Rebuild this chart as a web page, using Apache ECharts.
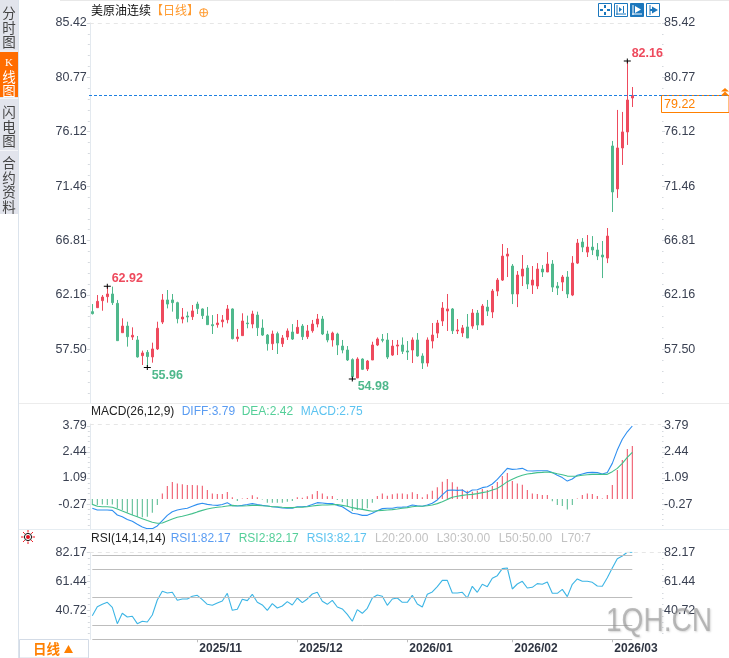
<!DOCTYPE html>
<html><head><meta charset="utf-8">
<style>html,body{margin:0;padding:0;background:#fff}#c{width:729px;height:658px}</style>
<script src="https://cdn.jsdelivr.net/npm/echarts@6/dist/echarts.min.js"></script>
</head><body><div id="c"></div>
<script>
const dates=[
'2025/10/03','2025/10/06','2025/10/07','2025/10/08','2025/10/09','2025/10/10','2025/10/13','2025/10/14','2025/10/15','2025/10/16','2025/10/17','2025/10/20','2025/10/21','2025/10/22','2025/10/23','2025/10/24','2025/10/27','2025/10/28','2025/10/29','2025/10/30','2025/10/31',
'2025/11/03','2025/11/04','2025/11/05','2025/11/06','2025/11/07','2025/11/10','2025/11/11','2025/11/12','2025/11/13','2025/11/14','2025/11/17','2025/11/18','2025/11/19','2025/11/20','2025/11/21','2025/11/24','2025/11/25','2025/11/26','2025/11/27','2025/11/28',
'2025/12/01','2025/12/02','2025/12/03','2025/12/04','2025/12/05','2025/12/08','2025/12/09','2025/12/10','2025/12/11','2025/12/12','2025/12/15','2025/12/16','2025/12/17','2025/12/18','2025/12/19','2025/12/22','2025/12/23','2025/12/24','2025/12/26','2025/12/29','2025/12/30','2025/12/31',
'2026/01/02','2026/01/05','2026/01/06','2026/01/07','2026/01/08','2026/01/09','2026/01/12','2026/01/13','2026/01/14','2026/01/15','2026/01/16','2026/01/19','2026/01/20','2026/01/21','2026/01/22','2026/01/23','2026/01/26','2026/01/27','2026/01/28','2026/01/29','2026/01/30',
'2026/02/02','2026/02/03','2026/02/04','2026/02/05','2026/02/06','2026/02/09','2026/02/10','2026/02/11','2026/02/12','2026/02/13','2026/02/16','2026/02/17','2026/02/18','2026/02/19','2026/02/20','2026/02/23','2026/02/24','2026/02/25','2026/02/26','2026/02/27',
'2026/03/02','2026/03/03','2026/03/04','2026/03/05','2026/03/06'];
const blankTail=['','','','',''];
const tickDates=['2025/11/03','2025/12/01','2026/01/02','2026/02/02','2026/03/02'];
// [open, close, low, high]
const candles=[
[60.74,60.57,60.50,61.39],[61.08,61.62,61.05,62.16],[61.68,61.99,60.82,62.16],[62.02,62.25,61.51,62.92],[62.25,61.51,61.31,62.88],[61.45,58.26,58.26,61.74],[58.94,59.51,58.94,60.17],[59.51,58.60,57.75,59.88],[58.57,58.72,58.32,59.40],[58.32,56.87,56.81,58.66],
[56.98,57.21,56.18,57.41],[57.26,56.90,55.96,57.46],[56.87,57.55,56.38,58.09],[57.55,59.32,57.46,59.88],[59.85,61.74,59.68,62.25],[61.74,61.39,61.02,62.59],[61.74,61.51,60.74,62.25],[61.51,60.14,59.74,61.59],[60.11,60.28,59.74,61.05],[60.37,60.28,59.83,60.74],
[60.31,60.80,60.03,61.31],[61.39,61.00,60.54,61.59],[60.97,60.40,60.11,61.02],[60.37,59.63,59.63,61.14],[59.63,59.54,58.83,60.45],[59.63,59.77,59.37,60.54],[59.88,60.03,59.40,60.45],[60.05,60.97,59.74,61.31],[60.97,58.43,58.37,61.02],[58.43,58.57,58.17,59.26],
[58.69,59.94,58.69,60.60],[59.77,59.71,59.32,60.40],[59.68,60.54,59.32,60.82],[60.45,59.37,58.66,60.74],[59.34,58.74,58.66,60.08],[58.74,58.00,57.41,58.83],[58.00,58.83,57.46,59.12],[58.86,58.06,57.12,59.03],[58.00,58.49,57.72,58.74],[58.57,59.09,58.32,59.31],
[59.00,58.40,58.32,59.68],[58.89,59.40,58.83,60.03],[59.51,58.60,58.32,59.68],[58.60,59.09,58.40,59.60],[59.11,59.68,58.94,60.03],[59.68,60.11,59.40,60.54],[60.11,58.83,58.74,60.37],[58.83,58.32,58.12,59.11],[58.32,58.91,57.75,59.03],[58.83,57.89,57.03,58.94],
[57.80,57.46,57.18,58.32],[57.46,56.61,56.52,57.80],[56.64,55.18,54.98,56.75],[55.07,56.69,55.07,56.84],[56.69,55.81,55.75,56.75],[55.84,56.52,55.67,56.61],[56.61,57.89,56.61,58.17],[57.89,58.40,57.80,58.54],[58.37,58.29,58.12,58.83],[58.32,56.86,56.69,58.91],
[57.03,57.80,56.95,58.32],[57.80,57.89,57.03,58.32],[57.89,57.35,57.12,58.54],[57.38,57.29,56.61,58.23],[57.46,58.32,56.35,58.54],[58.32,56.95,56.89,58.91],[56.95,56.35,55.84,57.18],[56.35,58.32,56.04,58.54],[58.23,58.74,57.60,59.77],[58.91,59.77,58.49,60.03],
[59.94,61.05,59.51,61.56],[60.80,60.97,59.09,62.25],[60.97,59.11,58.83,61.05],[59.09,59.17,58.83,60.11],[58.92,59.35,58.58,59.60],[59.43,58.49,58.49,60.54],[59.51,60.62,59.28,60.96],[60.62,59.60,59.17,60.88],[59.60,61.22,59.60,61.39],[61.13,60.79,60.37,61.74],
[60.71,62.50,60.19,62.67],[62.50,63.44,62.07,63.61],[63.44,65.49,63.36,66.52],[65.49,65.66,63.70,66.18],[64.64,62.25,61.39,64.81],[62.25,63.87,61.13,64.21],[63.78,64.38,62.93,65.58],[64.47,63.10,62.67,64.72],[63.01,63.44,62.25,64.64],[62.93,64.38,62.67,64.89],
[64.38,64.13,63.70,64.72],[64.13,64.81,64.13,65.83],[64.81,62.84,62.42,65.15],[62.93,62.76,62.16,63.27],[63.27,63.70,62.50,63.87],[63.70,62.25,61.90,64.21],[62.16,64.89,62.07,65.49],[64.89,66.60,64.81,66.95],[66.69,66.26,65.83,67.03],[65.83,66.26,65.41,67.29],
[66.26,66.01,65.58,67.20],[66.01,65.49,65.15,66.60],[65.58,65.41,63.61,66.78],[65.32,67.20,64.89,67.89],[74.90,70.97,69.26,75.33],[71.23,74.73,70.46,77.98],[74.73,76.10,73.28,77.81],[76.10,78.83,74.99,82.16],[79.00,79.22,78.23,79.94]];
const macdHist=[-0.31,-0.33,-0.29,-0.31,-0.28,-0.48,-0.57,-0.71,-0.83,-0.92,-0.95,-0.92,-0.71,-0.31,0.29,0.67,0.88,0.81,0.76,0.73,0.73,0.71,0.69,0.47,0.29,0.26,0.26,0.36,0.09,-0.10,0.02,0.05,0.19,0.09,-0.03,-0.19,-0.19,-0.19,-0.19,-0.14,-0.10,0.09,0.07,0.14,0.24,0.42,0.29,0.14,0.16,-0.05,-0.17,-0.40,-0.62,-0.57,-0.57,-0.48,-0.19,0.16,0.29,0.17,0.24,0.29,0.29,0.24,0.35,0.26,0.09,0.24,0.43,0.61,0.90,1.04,0.87,0.64,0.50,0.43,0.38,0.43,0.52,0.47,0.67,0.88,1.19,1.35,0.93,0.81,0.74,0.47,0.29,0.26,0.21,0.21,-0.12,-0.31,-0.36,-0.55,-0.31,0.03,0.21,0.29,0.26,0.16,0.03,0.21,0.73,1.51,2.02,2.60,2.75];
const macdDiff=[-0.48,-0.57,-0.57,-0.57,-0.59,-0.83,-0.92,-1.06,-1.16,-1.31,-1.45,-1.54,-1.54,-1.40,-1.12,-0.85,-0.66,-0.57,-0.52,-0.48,-0.38,-0.28,-0.22,-0.28,-0.31,-0.33,-0.29,-0.19,-0.35,-0.36,-0.33,-0.29,-0.24,-0.29,-0.33,-0.36,-0.40,-0.43,-0.47,-0.48,-0.48,-0.40,-0.40,-0.38,-0.29,-0.19,-0.21,-0.24,-0.24,-0.33,-0.40,-0.57,-0.74,-0.78,-0.85,-0.85,-0.74,-0.61,-0.50,-0.48,-0.48,-0.43,-0.42,-0.40,-0.31,-0.35,-0.38,-0.31,-0.22,-0.05,0.21,0.45,0.47,0.45,0.47,0.31,0.47,0.48,0.59,0.64,0.78,1.02,1.30,1.59,1.54,1.56,1.59,1.47,1.45,1.47,1.47,1.47,1.37,1.23,1.11,0.93,1.04,1.23,1.30,1.37,1.38,1.37,1.30,1.38,1.85,2.54,3.10,3.49,3.79];
const macdDea=[-0.28,-0.38,-0.40,-0.40,-0.43,-0.52,-0.62,-0.73,-0.83,-0.92,-1.02,-1.12,-1.21,-1.26,-1.25,-1.14,-1.04,-0.95,-0.90,-0.83,-0.76,-0.67,-0.59,-0.52,-0.47,-0.43,-0.40,-0.36,-0.33,-0.35,-0.36,-0.35,-0.33,-0.33,-0.35,-0.36,-0.40,-0.40,-0.43,-0.45,-0.45,-0.43,-0.42,-0.40,-0.36,-0.33,-0.31,-0.31,-0.29,-0.29,-0.33,-0.38,-0.45,-0.50,-0.54,-0.59,-0.64,-0.61,-0.59,-0.57,-0.55,-0.52,-0.48,-0.45,-0.40,-0.38,-0.38,-0.35,-0.31,-0.24,-0.14,-0.02,0.09,0.14,0.19,0.22,0.24,0.28,0.33,0.38,0.47,0.55,0.71,0.90,1.02,1.14,1.23,1.30,1.33,1.37,1.38,1.40,1.37,1.31,1.26,1.19,1.18,1.19,1.23,1.26,1.28,1.28,1.28,1.28,1.42,1.59,1.85,2.16,2.42];
const rsi=[36.90,43.33,45.00,46.43,42.86,31.19,38.57,35.95,36.43,31.19,32.86,32.38,37.38,48.10,54.29,53.10,53.57,47.86,48.81,48.81,50.71,51.43,48.33,45.00,44.29,45.95,47.38,52.86,40.71,41.43,48.57,47.62,52.14,46.43,44.52,40.71,45.48,42.38,43.81,46.90,44.52,49.52,46.19,48.81,52.38,53.57,47.14,45.00,47.86,43.10,41.67,37.86,32.86,41.19,38.57,42.14,49.52,51.67,50.71,44.29,48.81,49.52,46.43,46.43,51.43,45.24,43.10,52.14,53.81,57.62,62.14,62.14,53.10,53.10,53.57,49.52,57.86,53.57,59.29,57.62,63.57,65.48,70.48,70.95,55.95,59.52,61.43,56.67,57.14,59.76,59.29,60.95,52.86,52.86,55.71,50.48,59.29,63.10,61.43,61.43,60.71,58.10,57.86,64.05,70.95,77.62,79.52,82.17,82.17];
const rsiLevels=[80,70,50,30,20];
const priceTicks=[85.42,80.77,76.12,71.46,66.81,62.16,57.50];
const macdTicks=[3.79,2.44,1.09,-0.27];
const rsiTicks=[82.17,61.44,40.72];
const extremes=[[3,62.92,'#ee4a5d',[20,-8]],[11,55.96,'#4fb88c',[20,8]],[52,54.98,'#4fb88c',[21,7]],[107,82.16,'#ee4a5d',[20,-7]]];

const RED='#ee4a5d',GREEN='#4fb88c',BLUE='#2f8ff0',CYAN='#3cb5e5',ORANGE='#ff8000';
const cats=dates.concat(blankTail);
const GL=89.8,GW=570;
const grids=[{left:GL,width:GW,top:22.9,height:380.6},{left:GL,width:GW,top:424,height:105},{left:GL,width:GW,top:552.3,height:87}];
const xAxes=[0,1,2].map(i=>({type:'category',gridIndex:i,data:cats,boundaryGap:true,show:i===2,
  axisLine:{show:false},
  axisTick:{show:true,length:3,alignWithLabel:true,lineStyle:{color:'#bbb'},interval:(k,v)=>tickDates.includes(v)},
  axisLabel:{show:true,interval:(k,v)=>tickDates.includes(v),formatter:v=>v.slice(0,7),align:'left',fontFamily:'Liberation Sans',fontSize:12,fontWeight:'bold',color:'#2f3542',margin:3,padding:[0,0,0,2]},
  splitLine:{show:false}}));
const yAxes=[];
function addAxes(g,ticks,min,max,shift){
  const step=Math.abs(ticks[0]-ticks[1])/5, minor=[];
  for(let v=ticks[0];v>=min;v-=step)minor.push(+v.toFixed(3));
  for(let v=ticks[0]+step;v<=max;v+=step)minor.push(+v.toFixed(3));
  const lab={show:true,customValues:ticks,formatter:v=>v.toFixed(2),fontFamily:'Liberation Sans',fontSize:12.5,color:'#3a4152',padding:[0,0,2*shift,0]};
  const idx=yAxes.length;
  const base={type:'value',gridIndex:g,min,max,scale:true,splitLine:{show:false}};
  yAxes.push(Object.assign({},base,{position:'left',axisLine:{show:true,lineStyle:{color:'#e3e9ef'}},axisTick:{show:true,customValues:ticks,length:3,lineStyle:{color:'#d5d9de'}},axisLabel:Object.assign({},lab,{margin:3})}));
  yAxes.push(Object.assign({},base,{position:'right',offset:2.2,axisLine:{show:false},axisTick:{show:true,customValues:ticks,length:3,lineStyle:{color:'#d5d9de'}},axisLabel:Object.assign({},lab,{margin:2})}));
  yAxes.push(Object.assign({},base,{position:'left',axisLine:{show:false},axisTick:{show:true,customValues:minor,length:2,lineStyle:{color:'#d5d9de'}},axisLabel:{show:false}}));
  yAxes.push(Object.assign({},base,{position:'right',offset:2.2,axisLine:{show:false},axisTick:{show:true,customValues:minor,length:1.5,lineStyle:{color:'#d5d9de'}},axisLabel:{show:false}}));
  return idx;
}
const yP=addAxes(0,priceTicks,52.89,85.42,2);
const yM=addAxes(1,macdTicks,-1.558,3.894,2.5);
const yR=addAxes(2,rsiTicks,20,82.17,2.2);

const crossPath='path://M0 4H10V6H0Z M4.3 0H5.7V10H4.3Z';
const series=[
 {type:'candlestick',name:'美原油连续',xAxisIndex:0,yAxisIndex:yP,data:candles,barWidth:3,
  itemStyle:{color:RED,color0:GREEN,borderColor:RED,borderColor0:GREEN,borderWidth:1},
  markPoint:{silent:true,animation:false,data:extremes.map(e=>({coord:[e[0],e[1]],value:e[1],symbol:crossPath,symbolSize:[7,5],
    itemStyle:{color:'#000'},label:{show:true,position:'inside',offset:e[3],formatter:e[1].toFixed(2),color:e[2],fontFamily:'Liberation Sans',fontWeight:'bold',fontSize:12.5}}))}},
 {type:'bar',name:'MACD',xAxisIndex:1,yAxisIndex:yM,barWidth:1,data:macdHist.map(v=>({value:v,itemStyle:{color:v>=0?RED:GREEN}}))},
 {type:'line',name:'DIFF',xAxisIndex:1,yAxisIndex:yM,data:macdDiff,showSymbol:false,lineStyle:{color:BLUE,width:1.1}},
 {type:'line',name:'DEA',xAxisIndex:1,yAxisIndex:yM,data:macdDea,showSymbol:false,lineStyle:{color:'#43c08c',width:1.1}},
 {type:'line',name:'RSI',xAxisIndex:2,yAxisIndex:yR,data:rsi,showSymbol:false,lineStyle:{color:CYAN,width:1.1},z:3,
  markLine:{silent:true,symbol:'none',animation:false,label:{show:false},lineStyle:{color:'#bdbdbd',width:1,type:'solid'},
   data:rsiLevels.map(l=>[{coord:[0,l]},{coord:[108,l]}])}}
];
const chart=echarts.init(document.getElementById('c'),null,{renderer:'canvas'});
chart.setOption({animation:false,backgroundColor:'#fff',grid:grids,xAxis:xAxes,yAxis:yAxes,series});

const last=a=>a[a.length-1];
const lastClose=last(candles)[1];
const py=Math.round(chart.convertToPixel({yAxisIndex:yP},lastClose))+0.5;
const LS='Liberation Sans',CJK='"Noto Sans CJK SC"';
const txt=(x,y,t,fill,size,extra)=>({type:'text',x,y,silent:true,z:50,style:Object.assign({text:t,fill,font:`${size}px ${LS}, ${CJK}`,textVerticalAlign:'middle'},extra||{})});
const rect=(x,y,w,h,fill,stroke)=>({type:'rect',silent:true,z:40,shape:{x,y,width:w,height:h},style:{fill:fill||'none',stroke:stroke||'none',lineWidth:1}});
const line=(x1,y1,x2,y2,c,dash,w)=>({type:'line',silent:true,z:41,shape:{x1,y1,x2,y2},style:{stroke:c,lineWidth:w||1,lineDash:dash||null}});
const poly=(pts,fill)=>({type:'polygon',silent:true,z:42,shape:{points:pts},style:{fill}});
const sideText=(cy,t,fill)=>({type:'text',x:9,y:cy,silent:true,z:50,style:{text:t.split('').join('\n'),fill:fill||'#444',font:`13.5px ${CJK}`,lineHeight:14.6,textAlign:'center',textVerticalAlign:'middle'}});
const TB='#1b77bd';
const rays=[];
for(let k=0;k<8;k++){const a=k*Math.PI/4;rays.push(line(28+Math.cos(a)*4.5,537+Math.sin(a)*4.5,28+Math.cos(a)*7,537+Math.sin(a)*7,'#f0141e'));}
const dashTop=(ySource,val)=>{const y=Math.round(chart.convertToPixel({yAxisIndex:ySource},val))+0.5;return line(89.8,y,661,y,'#e6e6e6',[4,4]);};
const els=[
 rect(0,0,18,214,'#e2e4ec'),
 rect(0,52,18,45,'#ff6c00'),
 line(0,51,18,51,'#f4f5f8'),line(0,98.5,18,98.5,'#f4f5f8'),line(0,150.5,18,150.5,'#f4f5f8'),
 line(18.5,0,18.5,658,'#dbe3ec'),
 line(60,0.5,729,0.5,'#e8e8e8'),
 line(19,403.5,729,403.5,'#ececec'),
 line(19,529.5,729,529.5,'#e6edf2'),
 dashTop(yP,85.42),dashTop(yM,3.894),dashTop(yR,82.17),
 sideText(27.5,'分时图'),
 {type:'text',x:9,y:63,silent:true,z:50,style:{text:'K',fill:'#fff',font:'11px "Liberation Serif"',textAlign:'center',textVerticalAlign:'middle'}},
 sideText(84,'线图','#fff'),sideText(126.5,'闪电图'),sideText(185,'合约资料'),
 rect(19.5,639.5,69,18.5,'#fff','#d3dbe6'),
 txt(33,649,'日线',ORANGE,13.5,{font:`bold 13.5px ${CJK}`}),
 poly([[64,653],[73,653],[68.5,645]],ORANGE),
 txt(91,10.5,'美原油连续','#111',12,{font:`12px ${CJK}`}),
 txt(151,10.5,'【日线】','#ff9a2e',12,{font:`12px ${CJK}`}),
 {type:'circle',silent:true,z:42,shape:{cx:203.7,cy:12.7,r:4},style:{fill:'none',stroke:'#ff9a2e',lineWidth:1}},
 line(199.7,12.7,207.7,12.7,'#ff9a2e'),line(203.7,8.7,203.7,16.7,'#ff9a2e'),
 // toolbar
 rect(598.5,3.5,13,13,'#fff',TB),rect(614.5,3.5,13,13,'#fff',TB),rect(630.5,3.5,13,13,TB,TB),rect(646.5,3.5,13,13,'#fff',TB),
 line(605,5,605,8,TB,null,2),line(605,12,605,15,TB,null,2),line(600,10,603,10,TB,null,2),line(607,10,610,10,TB,null,2),
 line(617,5,617,15,TB),line(616,14,626,14,TB),poly([[619,7],[622,9.5],[619,12]],TB),line(623.5,6,623.5,13,TB),
 line(633,5,633,15,'#fff'),line(632,14,642,14,'#fff'),poly([[635,6],[641,9.5],[635,13]],'#fff'),
 line(650,5,650,15,TB),poly([[652,6.5],[658,10],[652,13.5]],TB),line(650,10,653,10,TB,null,2),
 // price line and tag
 line(89,py,729,py,'#1e80e0',[3,2]),
 rect(661.5,py,67.5,17,'#fff',ORANGE),
 txt(664,py+9,lastClose.toFixed(2),ORANGE,12.5),
 poly([[721,91.5],[729,91.5],[725,88]],ORANGE),poly([[721,95.5],[729,95.5],[725,91.5]],ORANGE),
 // MACD legend
 txt(91,412,'MACD(26,12,9)','#222',12),
 txt(181.7,412,'DIFF:'+last(macdDiff).toFixed(2),'#5a9cf2',12),
 txt(241.7,412,'DEA:'+last(macdDea).toFixed(2),'#55cf99',12),
 txt(300.7,412,'MACD:'+last(macdHist).toFixed(2),'#5cc3f0',12),
 // RSI legend
 txt(91,539,'RSI(14,14,14)','#222',12),
 txt(170.7,539,'RSI1:'+last(rsi).toFixed(2),'#5a9cf2',12),
 txt(238.7,539,'RSI2:'+last(rsi).toFixed(2),'#55cf99',12),
 txt(306.7,539,'RSI3:'+last(rsi).toFixed(2),'#5cc3f0',12),
 txt(375,539,'L20:20.00','#c2c2c2',12),txt(436.7,539,'L30:30.00','#c2c2c2',12),txt(498.7,539,'L50:50.00','#c2c2c2',12),txt(561,539,'L70:7','#c2c2c2',12),
 // sun
 {type:'circle',silent:true,z:42,shape:{cx:28,cy:537,r:3.6},style:{fill:'#fff',stroke:'#111',lineWidth:1}},
 {type:'circle',silent:true,z:43,shape:{cx:28,cy:537,r:2},style:{fill:'#e01020'}},
 ...rays,
 // watermark
 {type:'text',x:606,y:621.5,scaleX:0.85,silent:true,z:60,style:{text:'1QH.CN',fill:'rgba(150,150,150,0.6)',font:`33px ${LS}`,textVerticalAlign:'middle',textShadowColor:'rgba(120,120,120,0.5)',textShadowBlur:2,textShadowOffsetX:1,textShadowOffsetY:1}}
];
chart.setOption({graphic:{elements:els}});
</script></body></html>
